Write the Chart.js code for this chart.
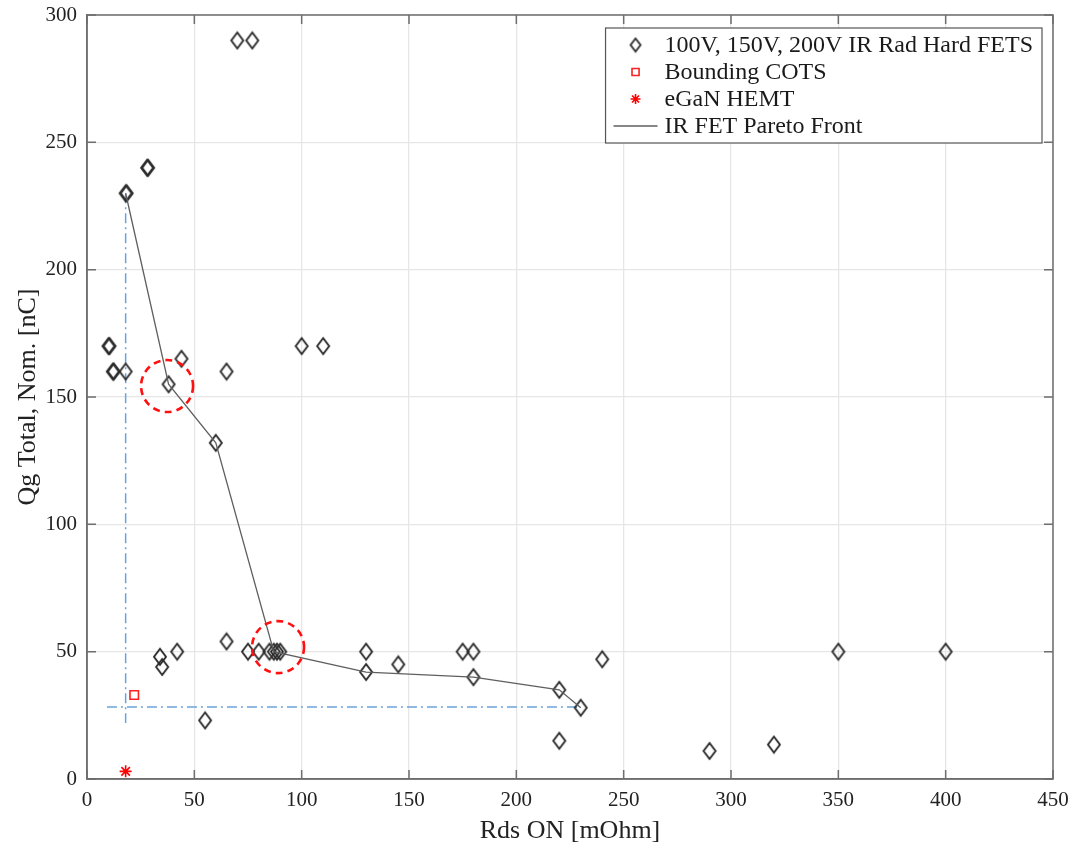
<!DOCTYPE html>
<html><head><meta charset="utf-8">
<script src="https://cdn.jsdelivr.net/npm/chart.js@4.4.1/dist/chart.umd.min.js"></script>
<style>html,body{margin:0;padding:0;background:#fff}#wrap{width:1075px;height:853px}</style>
</head><body><div id="wrap"><canvas id="c" width="1075" height="853"></canvas></div>
<script>
// ---- data ----
const rdsFET = [10, 10.5, 12, 12.5, 18, 18, 18.5, 28, 28.5, 70, 77, 44, 38, 65, 60, 100, 110, 34, 35, 42, 55, 65, 75, 80, 85, 87, 88.5, 90, 130, 130, 145, 175, 180, 180, 220, 230, 240, 220, 290, 320, 350, 400];
const qgFET  = [170, 170, 160, 160, 160, 230, 230, 240, 240, 290, 290, 165, 155, 160, 132, 170, 170, 48, 44, 50, 23, 54, 50, 50, 50, 50, 50, 50, 50, 42, 45, 50, 50, 40, 35, 28, 47, 15, 11, 13.5, 50, 50];
const rdsCOTS = [22];
const qgCOTS  = [33];
const rdsGaN  = [18];
const qgGaN   = [3];
const rdsPareto = [18, 38, 60, 87, 130, 180, 220, 230];
const qgPareto  = [230, 155, 132, 50, 42, 40, 35, 28];
const boundVertX = [18, 18];
const boundVertY = [230, 22];
const boundHorX  = [9.3, 230];
const boundHorY  = [28.3, 28.3];
const circleX = [37.3, 89];
const circleY = [154.3, 51.8];
const legendLabels = ['100V, 150V, 200V IR Rad Hard FETS', 'Bounding COTS', 'eGaN HEMT', 'IR FET Pareto Front'];
const xTicks = [0, 50, 100, 150, 200, 250, 300, 350, 400, 450];
const yTicks = [0, 50, 100, 150, 200, 250, 300];
const xTitle = 'Rds ON [mOhm]';
const yTitle = 'Qg Total, Nom. [nC]';

const pts = (xs, ys) => xs.map((x, i) => ({x, y: ys[i]}));
const SERIF = '"Liberation Serif", "Times New Roman", serif';

function diamondImg(w, h, lw) {
  const c = document.createElement('canvas');
  c.width = w + 4; c.height = h + 4;
  const g = c.getContext('2d');
  g.strokeStyle = '#2a2a2a'; g.lineWidth = lw;
  const cx = c.width / 2, cy = c.height / 2;
  g.beginPath(); g.moveTo(cx, cy - h / 2); g.lineTo(cx + w / 2, cy); g.lineTo(cx, cy + h / 2); g.lineTo(cx - w / 2, cy); g.closePath(); g.stroke();
  return c;
}
const DIAMOND = diamondImg(12, 16, 1.9);
const DIAMOND_SMALL = diamondImg(10, 13, 1.8);

const datasets = [
  {label: legendLabels[0], data: pts(rdsFET, qgFET), pointStyle: DIAMOND, pointRadius: 7, showLine: false, order: 3},
  {label: legendLabels[1], data: pts(rdsCOTS, qgCOTS), pointStyle: 'rect', pointRadius: 6, pointBorderWidth: 1.6,
   pointBorderColor: '#ff2020', pointBackgroundColor: 'rgba(0,0,0,0)', showLine: false, order: 1},
  {label: legendLabels[2], data: pts(rdsGaN, qgGaN), pointStyle: 'star', pointRadius: 6, pointBorderWidth: 1.6,
   pointBorderColor: '#ff0000', pointBackgroundColor: 'rgba(0,0,0,0)', showLine: false, order: 1},
  {label: legendLabels[3], data: pts(rdsPareto, qgPareto), showLine: true, borderColor: '#5f5f5f', borderWidth: 1.3,
   pointRadius: 0, fill: false, order: 2},
  {label: 'bv', data: pts(boundVertX, boundVertY), showLine: true, borderColor: '#6aa3da', borderWidth: 1.5,
   borderDash: [10, 4, 2, 4], pointRadius: 0, fill: false, order: 4},
  {label: 'bh', data: pts(boundHorX, boundHorY), showLine: true, borderColor: '#6aa3da', borderWidth: 1.5,
   borderDash: [10, 4, 2, 4], pointRadius: 0, fill: false, order: 4}
];

const decor = {
  id: 'decor',
  afterDatasetsDraw(chart) {
    const ctx = chart.ctx, a = chart.chartArea, xs = chart.scales.x, ys = chart.scales.y;
    ctx.save();
    // red dashed circles
    ctx.strokeStyle = '#ff1010'; ctx.lineWidth = 2.6; ctx.setLineDash([7, 5]);
    circleX.forEach((cx, i) => {
      ctx.beginPath();
      ctx.arc(xs.getPixelForValue(cx), ys.getPixelForValue(circleY[i]), 26, 0, Math.PI * 2);
      ctx.stroke();
    });
    ctx.setLineDash([]);
    // frame + inward ticks
    ctx.strokeStyle = '#6e6e6e'; ctx.lineWidth = 1.5;
    ctx.strokeRect(a.left, a.top, a.right - a.left, a.bottom - a.top);
    ctx.beginPath();
    const L = 9;
    xTicks.forEach(v => {
      const px = xs.getPixelForValue(v);
      ctx.moveTo(px, a.bottom); ctx.lineTo(px, a.bottom - L);
      ctx.moveTo(px, a.top); ctx.lineTo(px, a.top + L);
    });
    yTicks.forEach(v => {
      const py = ys.getPixelForValue(v);
      ctx.moveTo(a.left, py); ctx.lineTo(a.left + L, py);
      ctx.moveTo(a.right, py); ctx.lineTo(a.right - L, py);
    });
    ctx.stroke();
    ctx.restore();
  },
  afterDraw(chart) {
    const ctx = chart.ctx, a = chart.chartArea;
    ctx.save();
    ctx.font = '24px ' + SERIF;
    const tw = Math.max(...legendLabels.map(t => ctx.measureText(t).width));
    const textX0 = 59, rowH = 27, padTop = 17;
    const w = textX0 + tw + 9, h = 115;
    const x = a.right - 11 - w, y = a.top + 13;
    ctx.fillStyle = '#fff';
    ctx.fillRect(x, y, w, h);
    ctx.strokeStyle = '#555'; ctx.lineWidth = 1.2;
    ctx.strokeRect(x, y, w, h);
    legendLabels.forEach((t, i) => {
      const cy = y + padTop + i * rowH;
      const ds = datasets[i];
      if (i === 3) {
        ctx.strokeStyle = ds.borderColor; ctx.lineWidth = ds.borderWidth;
        ctx.beginPath(); ctx.moveTo(x + 8, cy); ctx.lineTo(x + 52, cy); ctx.stroke();
      } else {
        ctx.strokeStyle = ds.pointBorderColor || '#2a2a2a';
        ctx.fillStyle = 'rgba(0,0,0,0)';
        ctx.lineWidth = ds.pointBorderWidth || 1.6;
        Chart.helpers.drawPoint(ctx, {pointStyle: i === 0 ? DIAMOND_SMALL : ds.pointStyle, rotation: 0, radius: 5, borderWidth: ctx.lineWidth}, x + 30, cy);
      }
      ctx.fillStyle = '#1a1a1a';
      ctx.textBaseline = 'middle'; ctx.textAlign = 'left';
      ctx.fillText(t, x + textX0, cy + 1);
    });
    ctx.restore();
  }
};

function zeroPad(s) { s.paddingTop = 0; s.paddingBottom = 0; s.paddingLeft = 0; s.paddingRight = 0; }

new Chart(document.getElementById('c'), {
  type: 'scatter',
  data: {datasets},
  options: {
    responsive: false, animation: false, devicePixelRatio: 1,
    layout: {padding: {left: 0, right: 22, top: 15, bottom: 0}},
    plugins: {legend: {display: false}, tooltip: {enabled: false}},
    scales: {
      x: {
        type: 'linear', min: 0, max: 450,
        afterBuildTicks: s => { s.ticks = xTicks.map(v => ({value: v})); },
        afterFit: s => { s.height = 74; zeroPad(s); },
        grid: {color: '#e6e6e6', lineWidth: 1.3, drawTicks: false},
        border: {display: true, color: '#6e6e6e', width: 1.5},
        ticks: {padding: 9, color: '#222', font: {family: SERIF, size: 21}, maxRotation: 0},
        title: {display: true, text: xTitle, color: '#222', font: {family: SERIF, size: 26}, padding: {top: 0, bottom: 6}}
      },
      y: {
        type: 'linear', min: 0, max: 300,
        afterBuildTicks: s => { s.ticks = yTicks.map(v => ({value: v})); },
        afterFit: s => { s.width = 87; zeroPad(s); },
        grid: {color: '#e6e6e6', lineWidth: 1.3, drawTicks: false},
        border: {display: true, color: '#6e6e6e', width: 1.5},
        ticks: {padding: 10, color: '#222', font: {family: SERIF, size: 21}},
        title: {display: true, text: yTitle, color: '#222', font: {family: SERIF, size: 26}, padding: {top: 13, bottom: 0}}
      }
    }
  },
  plugins: [decor]
});
</script>
</body></html>
